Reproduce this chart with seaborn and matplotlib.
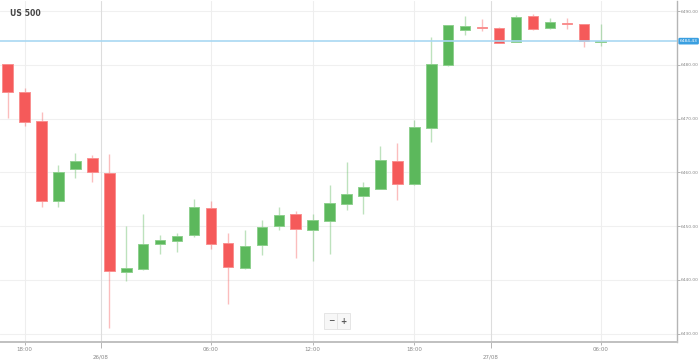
import numpy as np
import pandas as pd
import matplotlib
matplotlib.use("Agg")
import matplotlib.pyplot as plt
import seaborn as sns

# candle data (hourly, US 500)
opens = [6480.1, 6475.0, 6469.6, 6454.6, 6460.6, 6462.6, 6459.9, 6441.5, 6442.0, 6446.7,
         6447.2, 6448.3, 6453.3, 6446.8, 6442.2, 6446.5, 6450.0, 6452.3, 6449.2, 6451.0,
         6454.1, 6455.7, 6457.0, 6462.2, 6457.8, 6468.3, 6479.9, 6486.5, 6487.1, 6486.8,
         6484.3, 6489.1, 6486.8, 6487.8, 6487.6, 6484.35]
highs = [6480.1, 6475.7, 6471.2, 6461.4, 6463.7, 6463.2, 6463.5, 6450.0, 6452.2, 6448.4,
         6448.8, 6455.1, 6454.7, 6448.8, 6449.2, 6451.2, 6453.6, 6452.9, 6452.2, 6457.7,
         6461.9, 6458.2, 6464.9, 6465.4, 6469.7, 6485.2, 6487.5, 6489.1, 6488.6, 6487.1,
         6489.3, 6489.4, 6488.8, 6488.8, 6487.7, 6487.7]
lows = [6470.2, 6468.7, 6453.6, 6453.5, 6459.0, 6458.2, 6431.0, 6439.8, 6441.8, 6444.8,
        6445.2, 6448.0, 6445.7, 6435.5, 6442.0, 6444.6, 6449.3, 6444.1, 6443.5, 6444.9,
        6453.1, 6452.3, 6456.9, 6454.9, 6457.7, 6465.7, 6479.8, 6485.5, 6486.3, 6484.0,
        6484.2, 6486.5, 6486.7, 6486.6, 6483.4, 6483.5]
closes = [6474.9, 6469.4, 6454.6, 6460.1, 6462.2, 6460.1, 6441.7, 6442.2, 6446.7, 6447.4,
          6448.1, 6453.5, 6446.7, 6442.4, 6446.4, 6449.9, 6452.1, 6449.4, 6451.1, 6454.3,
          6455.9, 6457.2, 6462.4, 6457.9, 6468.4, 6480.1, 6487.4, 6487.2, 6486.9, 6484.1,
          6488.9, 6486.6, 6487.9, 6487.6, 6484.4, 6484.43]

last_price = 6484.43
time_ticks = [1, 12, 18, 24, 35]
time_labels = ["18:00", "06:00", "12:00", "18:00", "06:00"]
date_ticks = [5.5, 28.5]
date_labels = ["26/08", "27/08"]
y_ticks = [6430, 6440, 6450, 6460, 6470, 6480, 6490]

df = pd.DataFrame({"open": opens, "high": highs, "low": lows, "close": closes})
df["idx"] = np.arange(len(df))
df["up"] = df["close"] >= df["open"]

GREEN = "#5cb85c"
RED = "#f55a5a"
GREEN_EDGE = "#8fd08f"
RED_EDGE = "#f99090"

sns.set_theme(style="white")
plt.rcParams["font.family"] = ["DejaVu Sans"]

fig = plt.figure(figsize=(6.99, 3.6), dpi=100)
ax = fig.add_axes([0.0, 1 - 342 / 360, 677 / 699, 341 / 360])

# grid
for y in y_ticks:
    ax.axhline(y, color="#f0f0f0", lw=0.8, zorder=0)
for x in time_ticks:
    ax.axvline(x, color="#eeeeee", lw=0.8, zorder=0)
for x in date_ticks:
    ax.axvline(x, color="#dddddd", lw=0.8, zorder=0)

# wicks
for up, wc in [(True, GREEN), (False, RED)]:
    sub = df[df["up"] == up]
    ax.vlines(sub["idx"], sub["low"], sub["high"], color=wc, alpha=0.4, lw=1.0, zorder=2)

# bodies
for up, fc, ec in [(True, GREEN, GREEN_EDGE), (False, RED, RED_EDGE)]:
    sub = df[df["up"] == up]
    bottom = np.minimum(sub["open"], sub["close"])
    height = np.maximum(np.abs(sub["close"] - sub["open"]), 0.15)
    ax.bar(sub["idx"], height, bottom=bottom, width=0.62, color=fc,
           edgecolor=ec, linewidth=0.7, zorder=3)

# last price line
ax.axhline(last_price, color="#a9d8f2", lw=1.2, zorder=4)
ax.text(1.004, last_price, f"{last_price:.2f}", transform=ax.get_yaxis_transform(),
        ha="left", va="center", fontsize=3.2, color="white", zorder=6, clip_on=False,
        bbox=dict(boxstyle="round,pad=0.3,rounding_size=0.3", fc="#3a9fe0", ec="none"))

ax.set_xlim(-0.45, 39.5)
ax.set_ylim(6428.45, 6491.9)

ax.yaxis.tick_right()
ax.set_yticks(y_ticks)
ax.set_yticklabels([f"{v:.2f}" for v in y_ticks])
ax.tick_params(axis="y", right=True, length=2, width=0.6, color="#aaaaaa",
               labelsize=3.2, labelcolor="#888888", pad=1)

ax.set_xticks(time_ticks)
ax.set_xticklabels(time_labels)
ax.set_xticks(date_ticks, minor=True)
ax.set_xticklabels(date_labels, minor=True)
ax.tick_params(axis="x", which="major", bottom=True, length=2, width=0.6,
               color="#aaaaaa", labelsize=4.0, labelcolor="#888888", pad=1.5)
ax.tick_params(axis="x", which="minor", bottom=True, length=4, width=0.6,
               color="#aaaaaa", labelsize=4.0, labelcolor="#888888", pad=5.0)

for side in ["top", "left"]:
    ax.spines[side].set_visible(False)
ax.spines["right"].set_color("#b5b5b5")
ax.spines["right"].set_linewidth(1.0)
ax.spines["bottom"].set_color("#c0c0c0")
ax.spines["bottom"].set_linewidth(1.4)

# title
fig.text(10 / 699, 1 - 13 / 360, "US 500", fontsize=5.6, fontweight="bold",
         color="#444444", ha="left", va="center")

# zoom buttons
for cx, label in [(331, "\u2212"), (343.5, "+")]:
    fig.text(cx / 699, 1 - 321 / 360, label, fontsize=5.5, fontweight="bold",
             color="#555555", ha="center", va="center",
             bbox=dict(boxstyle="square,pad=0.45", fc="#f7f7f7", ec="#e2e2e2", lw=0.6))

fig.savefig("out.png", dpi=100, facecolor="white")
